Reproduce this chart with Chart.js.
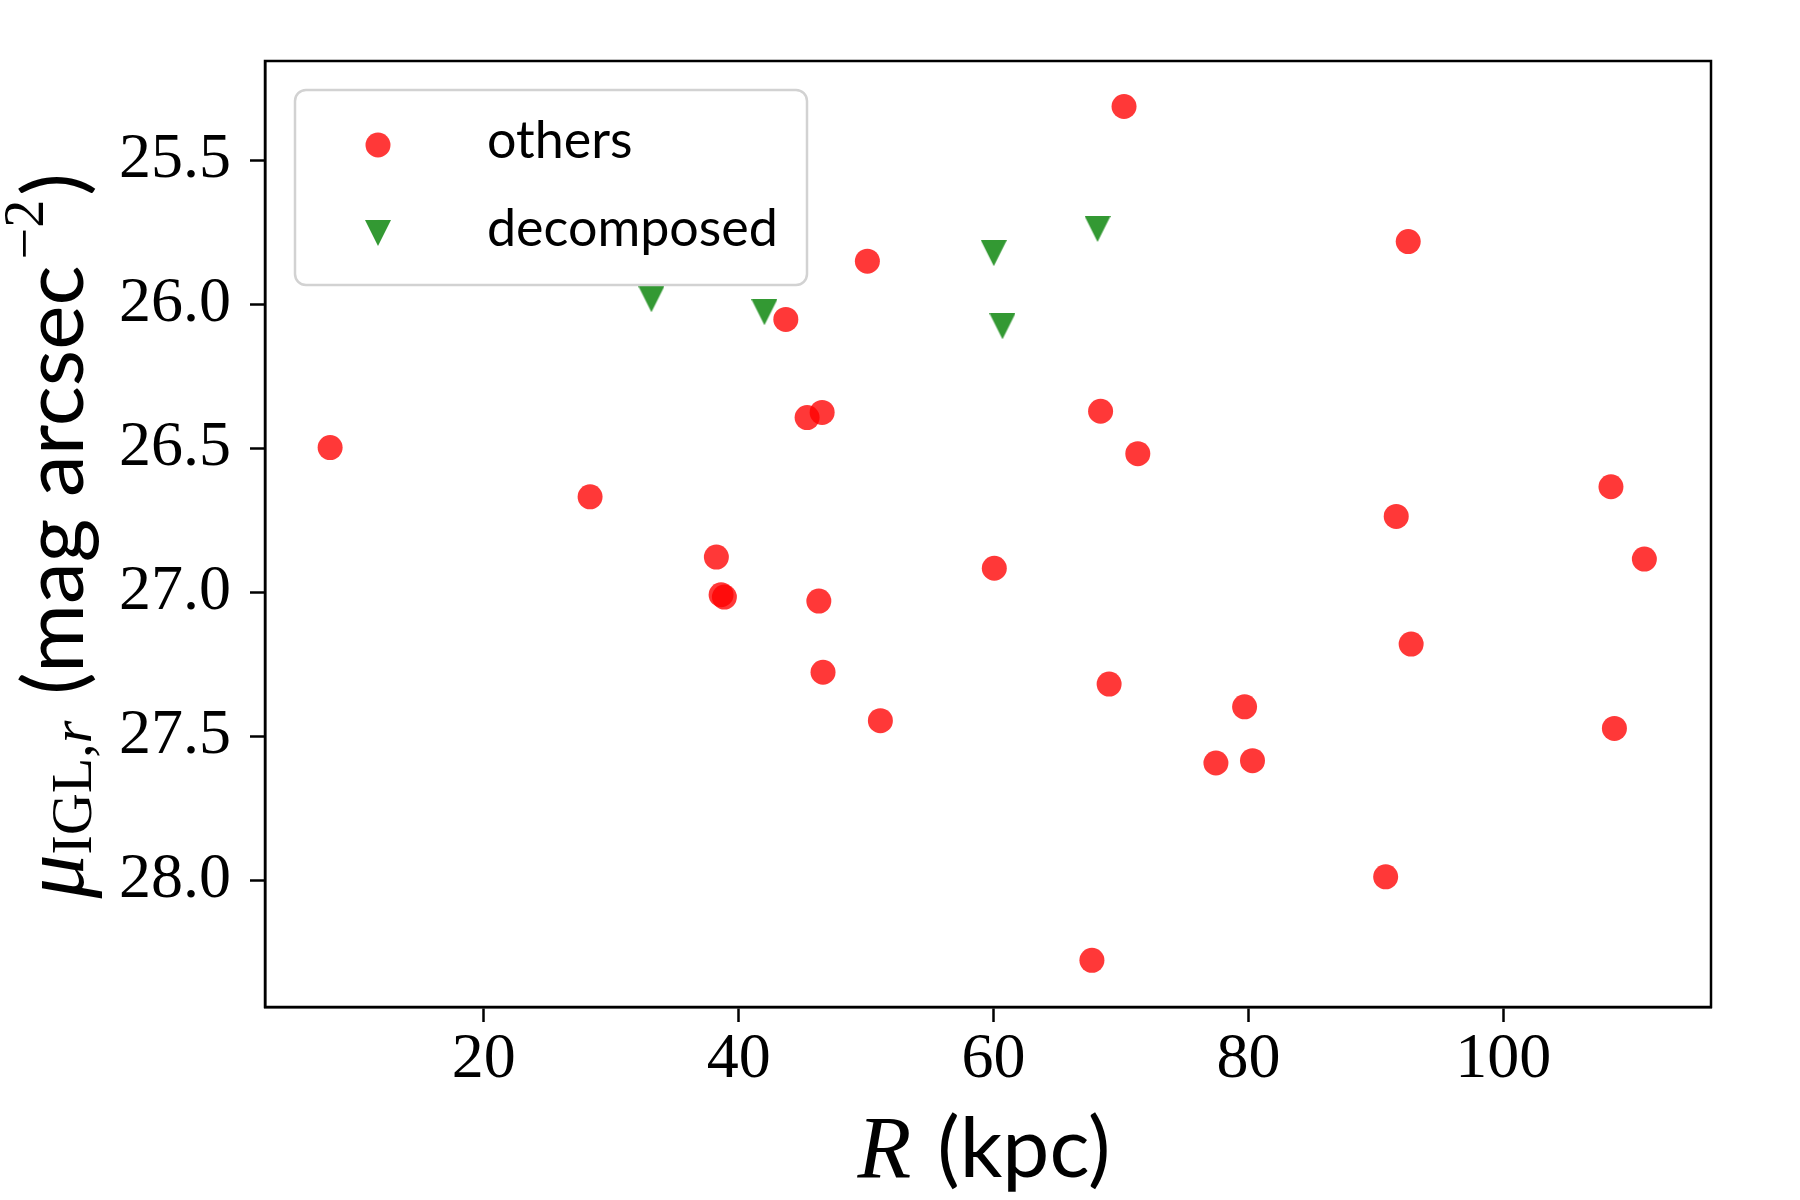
<!DOCTYPE html>
<html lang="en">
<head>
<meta charset="UTF-8" />
<title>IGL surface brightness vs R</title>
<script src="https://cdn.jsdelivr.net/npm/chart.js@4.4.1/dist/chart.umd.min.js"></script>
<style>
    html, body { margin: 0; padding: 0; background: #fff; }
    #wrap { width: 1800px; height: 1200px; position: relative; }
</style>
</head>
<body>
<div id="wrap"><canvas id="chart"></canvas></div>
<script>
// values: R in kpc, mu_IGL,r in mag arcsec^-2
const othersR = [7.94, 28.34, 38.25, 38.62, 38.88, 43.70, 45.37, 46.55, 46.29, 46.62,
                 50.10, 51.12, 60.06, 67.72, 68.40, 69.07, 70.24, 71.32, 77.45, 79.70,
                 80.32, 90.77, 91.60, 92.54, 92.77, 108.45, 108.72, 111.07];
const othersMu = [26.497, 26.668, 26.877, 27.008, 27.016, 26.052, 26.393, 26.375, 27.030, 27.277,
                  25.850, 27.445, 26.916, 28.277, 26.371, 27.318, 25.313, 26.518, 27.592, 27.397,
                  27.584, 27.987, 26.736, 25.782, 27.179, 26.633, 27.472, 26.884];
const decompR = [33.15, 42.02, 60.02, 60.70, 68.16];
const decompMu = [25.982, 26.027, 25.822, 26.076, 25.738];

const xTicks = [20, 40, 60, 80, 100];
const yTicks = [25.5, 26.0, 26.5, 27.0, 27.5, 28.0];
const xMin = 2.83, xMax = 116.3;
const yMin = 25.155, yMax = 28.439;

const RED = 'rgba(255, 0, 0, 0.78)';
const GREEN = 'rgba(0, 128, 0, 0.8)';
const SERIF = '"Liberation Serif", "DejaVu Serif", serif';
const SANS = 'Lato, "DejaVu Sans", sans-serif';

// matplotlib style 'v' marker: isosceles, as wide as it is tall
function downTriangle(size, color) {
    const c = document.createElement('canvas');
    c.width = size; c.height = size;
    const g = c.getContext('2d');
    g.fillStyle = color;
    g.beginPath();
    g.moveTo(0, 0);
    g.lineTo(size, 0);
    g.lineTo(size / 2, size);
    g.closePath();
    g.fill();
    return c;
}
const triMarker = downTriangle(26, GREEN);

function drawPieces(ctx, pieces) {
    // pieces: [text, font, dy, gapBefore]; drawn left to right, centred on 0
    let total = 0;
    pieces.forEach(p => {
        ctx.font = p[1];
        p.w = ctx.measureText(p[0]).width;
        total += p.w + (p[3] || 0);
    });
    let x = -total / 2;
    pieces.forEach(p => {
        x += p[3] || 0;
        ctx.font = p[1];
        ctx.fillText(p[0], x, p[2]);
        x += p.w;
    });
}

const extras = {
    id: 'extras',
    afterDraw(chart) {
        const ctx = chart.ctx;
        const a = chart.chartArea;
        ctx.save();

        // full frame
        ctx.strokeStyle = '#000';
        ctx.lineWidth = 2.5;
        ctx.strokeRect(a.left, a.top, a.right - a.left, a.bottom - a.top);

        // axis titles
        ctx.fillStyle = '#000';
        ctx.textBaseline = 'alphabetic';
        ctx.textAlign = 'left';
        ctx.save();
        ctx.translate((a.left + a.right) / 2 - 4, 1177);
        drawPieces(ctx, [
            ['R', 'italic 88px ' + SERIF, 0],
            ['(kpc)', '84px ' + SANS, 0, 26]
        ]);
        ctx.restore();

        ctx.save();
        ctx.translate(83, (a.top + a.bottom) / 2 + 2);
        ctx.rotate(-Math.PI / 2);
        drawPieces(ctx, [
            ['\u03bc', 'italic 88px ' + SERIF, 0],
            ['IGL,', '58px ' + SERIF, 8],
            ['r', 'italic 58px ' + SERIF, 8],
            ['(mag arcsec', '84px ' + SANS, 0, 26],
            ['\u22122', '56px ' + SERIF, -40, 6],
            [')', '84px ' + SANS, 0, 4]
        ]);
        ctx.restore();

        // legend box
        const bx = 295, by = 90, bw = 512, bh = 195, r = 11;
        ctx.beginPath();
        ctx.moveTo(bx + r, by);
        ctx.arcTo(bx + bw, by, bx + bw, by + bh, r);
        ctx.arcTo(bx + bw, by + bh, bx, by + bh, r);
        ctx.arcTo(bx, by + bh, bx, by, r);
        ctx.arcTo(bx, by, bx + bw, by, r);
        ctx.closePath();
        ctx.fillStyle = 'rgba(255,255,255,0.8)';
        ctx.fill();
        ctx.strokeStyle = '#d2d2d2';
        ctx.lineWidth = 2.5;
        ctx.stroke();

        const rows = [145, 233];
        chart.data.datasets.forEach((ds, i) => {
            if (ds.pointStyle === 'circle') {
                ctx.fillStyle = ds.backgroundColor;
                ctx.beginPath();
                ctx.arc(378, rows[i], ds.pointRadius, 0, Math.PI * 2);
                ctx.fill();
            } else {
                Chart.helpers.drawPoint(ctx, {
                    pointStyle: ds.pointStyle,
                    radius: ds.pointRadius,
                    rotation: 0,
                    borderWidth: 0
                }, 378, rows[i]);
            }
            ctx.fillStyle = '#000';
            ctx.font = '52px ' + SANS;
            ctx.fillText(ds.label, 487, rows[i] + 13);
        });
        ctx.restore();
    }
};

new Chart(document.getElementById('chart'), {
    type: 'scatter',
    data: {
        datasets: [
            {
                label: 'others',
                data: othersR.map((x, i) => ({ x: x, y: othersMu[i] })),
                backgroundColor: RED,
                borderWidth: 0,
                pointStyle: 'circle',
                pointRadius: 12.5
            },
            {
                label: 'decomposed',
                data: decompR.map((x, i) => ({ x: x, y: decompMu[i] })),
                backgroundColor: GREEN,
                borderWidth: 0,
                pointStyle: triMarker,
                pointRadius: 13
            }
        ]
    },
    options: {
        responsive: true,
        maintainAspectRatio: false,
        devicePixelRatio: 1,
        animation: false,
        layout: { padding: { left: 0, right: 89, top: 61, bottom: 0 } },
        plugins: {
            legend: { display: false },
            tooltip: { enabled: false }
        },
        scales: {
            x: {
                type: 'linear',
                min: xMin,
                max: xMax,
                afterFit: s => { s.height = 193; },
                afterBuildTicks: s => { s.ticks = xTicks.map(v => ({ value: v })); },
                grid: { drawOnChartArea: false, drawTicks: true, tickLength: 15, tickWidth: 2.5, tickColor: '#000' },
                border: { display: true, color: '#000', width: 2.5 },
                ticks: {
                    font: { family: SERIF, size: 64 },
                    color: '#000',
                    padding: 0,
                    maxRotation: 0,
                    callback: v => String(v)
                }
            },
            y: {
                type: 'linear',
                reverse: true,
                min: yMin,
                max: yMax,
                afterFit: s => { s.width = 265; },
                afterBuildTicks: s => { s.ticks = yTicks.map(v => ({ value: v })); },
                grid: { drawOnChartArea: false, drawTicks: true, tickLength: 15, tickWidth: 2.5, tickColor: '#000' },
                border: { display: true, color: '#000', width: 2.5 },
                ticks: {
                    font: { family: SERIF, size: 64 },
                    color: '#000',
                    padding: 19,
                    callback: v => v.toFixed(1)
                }
            }
        }
    },
    plugins: [extras]
});
</script>
</body>
</html>
